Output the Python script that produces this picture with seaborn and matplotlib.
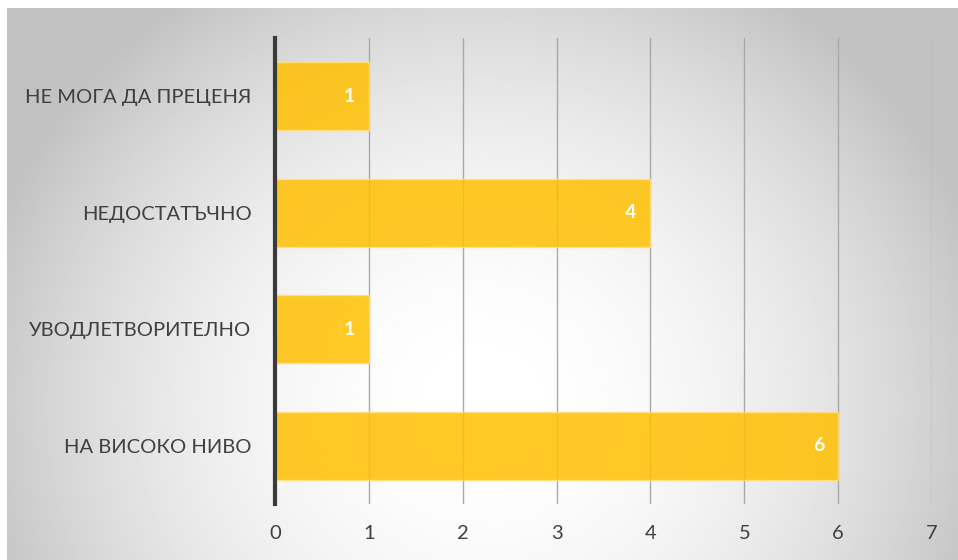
import numpy as np
import pandas as pd
import matplotlib
matplotlib.use("Agg")
import matplotlib.pyplot as plt
import seaborn as sns

# data
categories = ["НЕ МОГА ДА ПРЕЦЕНЯ", "НЕДОСТАТЪЧНО", "УВОДЛЕТВОРИТЕЛНО", "НА ВИСОКО НИВО"]
counts = [1, 4, 1, 6]
x_ticks = [0, 1, 2, 3, 4, 5, 6, 7]

df = pd.DataFrame({"category": categories, "count": counts})

sns.set_theme(style="white")
plt.rcParams["font.family"] = ["Lato", "DejaVu Sans"]

W, H = 958, 560
fig = plt.figure(figsize=(W / 100, H / 100), dpi=100)
fig.patch.set_facecolor("white")

# radial gradient background (light centre, grey edges)
bg = fig.add_axes([7 / W, 0, (W - 7) / W, (H - 8) / H])
bg.set_zorder(-10)
yy, xx = np.mgrid[0:1:300j, 0:1:500j]
d2 = ((xx - 0.5) / 0.55) ** 2 + ((yy - 0.72) / 0.9) ** 2
shade = 1.0 - 0.24 * np.clip(d2, 0, 1)
bg.imshow(shade, cmap="gray", vmin=0, vmax=1, aspect="auto",
          extent=[0, 1, 0, 1], interpolation="bilinear")
bg.axis("off")

ax = fig.add_axes([275 / W, 1 - 504 / H, (932 - 275) / W, (504 - 38) / H])
ax.set_facecolor("none")

sns.barplot(data=df, x="count", y="category", orient="h", ax=ax,
            color="#FFC000", saturation=1, alpha=0.85, width=0.58,
            edgecolor="#FFE080", linewidth=1)

ax.set_xlim(0, 7)
ax.set_xticks(x_ticks)
ax.set_xlabel("")
ax.set_ylabel("")
ax.set_axisbelow(True)
ax.grid(axis="x", color="#a8a8a8", linewidth=1)
ax.grid(axis="y", visible=False)

for side in ["top", "right", "bottom"]:
    ax.spines[side].set_visible(False)
ax.spines["left"].set_color("#3a3a3a")
ax.spines["left"].set_linewidth(3)
ax.spines["left"].set_zorder(5)

ax.tick_params(axis="y", length=0, pad=17, labelsize=14.5, labelcolor="#404040")
ax.tick_params(axis="x", length=0, pad=15, labelsize=14.5, labelcolor="#404040")

for patch, val in zip(ax.patches, counts):
    y = patch.get_y() + patch.get_height() / 2
    ax.annotate(str(val), xy=(patch.get_width(), y), xytext=(-10, 0),
                textcoords="offset points", ha="right", va="center",
                color="white", fontweight="bold", fontsize=14)

fig.savefig("out.png", dpi=100)
